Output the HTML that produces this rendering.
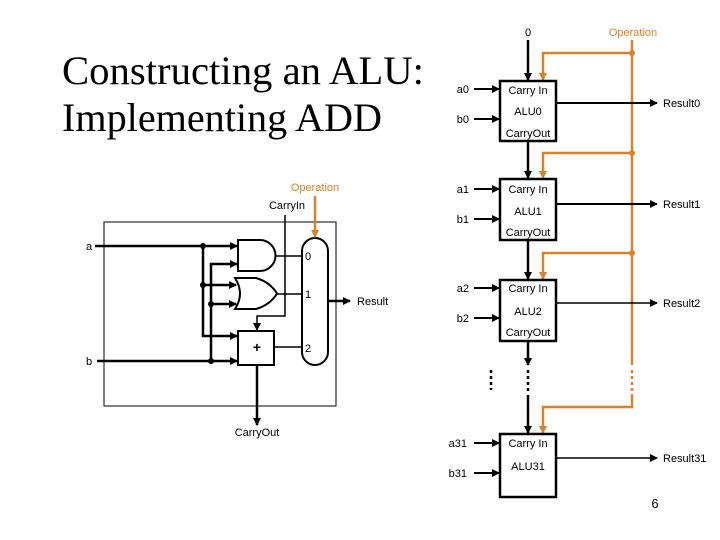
<!DOCTYPE html>
<html><head><meta charset="utf-8"><style>body{margin:0;background:#fff}svg{display:block}</style></head><body>
<svg width="720" height="540" viewBox="0 0 720 540" xmlns="http://www.w3.org/2000/svg" font-family="Liberation Sans, sans-serif" font-size="11">
<defs>
<marker id="ab" markerWidth="8" markerHeight="8" refX="7" refY="4" orient="auto" markerUnits="userSpaceOnUse"><path d="M0,0 L8,4 L0,8 z" fill="#000"/></marker>
<marker id="ao" markerWidth="8" markerHeight="8" refX="7" refY="4" orient="auto" markerUnits="userSpaceOnUse"><path d="M0,0 L8,4 L0,8 z" fill="#d9822b"/></marker>
</defs>
<text x="62" y="84" font-family="Liberation Serif, serif" font-size="40" textLength="362" lengthAdjust="spacingAndGlyphs">Constructing an ALU:</text>
<text x="62" y="131" font-family="Liberation Serif, serif" font-size="40" textLength="320" lengthAdjust="spacingAndGlyphs">Implementing ADD</text>

<g stroke="#000" fill="none">
<rect x="104" y="222" width="232" height="184" stroke-width="1"/>
<g stroke-width="2.5">
<line x1="95" y1="246" x2="237" y2="246" marker-end="url(#ab)"/>
<line x1="97" y1="361" x2="237" y2="361" marker-end="url(#ab)"/>
<polyline points="203,246 203,336 237,336" marker-end="url(#ab)"/>
<polyline points="211,361 211,264 237,264" marker-end="url(#ab)"/>
<line x1="203" y1="285" x2="236" y2="285" marker-end="url(#ab)"/>
<line x1="211" y1="304" x2="236" y2="304" marker-end="url(#ab)"/>
<path d="M238,240 L260,240 A15.5,15.5 0 0 1 260,271 L238,271 Z" stroke-width="2"/>
<path d="M235,278 L256,278 Q270,282 277,293.5 Q270,305 256,309 L235,309 Q245,293.5 235,278 Z" stroke-width="2"/>
<rect x="238" y="331" width="36" height="34" stroke-width="2"/>
<rect x="302" y="238" width="26" height="127" rx="13" stroke-width="2"/>
<line x1="275" y1="256" x2="302" y2="256" stroke-width="1.5"/>
<line x1="277" y1="294" x2="302" y2="294" stroke-width="1.5"/>
<line x1="274" y1="347" x2="302" y2="347" stroke-width="1.5"/>
<polyline points="285,215 285,316 257,316 257,330" stroke-width="1.5" marker-end="url(#ab)"/>
<line x1="328" y1="301" x2="350" y2="301" marker-end="url(#ab)"/>
<line x1="257" y1="365" x2="257" y2="425" marker-end="url(#ab)"/>
</g>
</g>
<g fill="#000"><circle cx="203" cy="246" r="3"/><circle cx="203" cy="285" r="3"/><circle cx="211" cy="304" r="3"/><circle cx="211" cy="361" r="3"/></g>
<line x1="315" y1="196" x2="315" y2="237" stroke="#d9822b" stroke-width="2.5" marker-end="url(#ao)"/>
<text x="315" y="191" fill="#d9822b" text-anchor="middle">Operation</text>
<text x="287" y="209" text-anchor="middle">CarryIn</text>
<text x="86" y="250">a</text><text x="86" y="365">b</text>
<text x="257" y="352" text-anchor="middle" font-size="14" font-weight="bold">+</text>
<text x="305" y="260">0</text><text x="305" y="298">1</text><text x="305" y="352">2</text>
<text x="357" y="305">Result</text>
<text x="257" y="436" text-anchor="middle">CarryOut</text>

<g stroke="#d9822b" stroke-width="2.5" fill="none">
<line x1="632" y1="40" x2="632" y2="365"/>
<line x1="632" y1="370" x2="632" y2="395" stroke-dasharray="3,3"/>
<polyline points="632,395 632,407 543,407 543,433" marker-end="url(#ao)"/>
<polyline points="632,53 543,53 543,80" marker-end="url(#ao)"/>
<polyline points="632,153 543,153 543,178" marker-end="url(#ao)"/>
<polyline points="632,253 543,253 543,279" marker-end="url(#ao)"/>
</g>
<g fill="#d9822b"><circle cx="632" cy="53" r="3"/><circle cx="632" cy="153" r="3"/><circle cx="632" cy="253" r="3"/></g>
<g stroke="#000" stroke-width="2.5" fill="none">
<line x1="528" y1="40" x2="528" y2="80" marker-end="url(#ab)"/>
<line x1="528" y1="141" x2="528" y2="178" marker-end="url(#ab)"/>
<line x1="528" y1="240" x2="528" y2="279" marker-end="url(#ab)"/>
<line x1="528" y1="341" x2="528" y2="365" marker-end="url(#ab)"/>
<line x1="528" y1="370" x2="528" y2="392" stroke-dasharray="3,3"/>
<line x1="528" y1="395" x2="528" y2="433" marker-end="url(#ab)"/>
<line x1="491" y1="370" x2="491" y2="390" stroke-dasharray="3,3"/>
<rect x="500" y="81" width="56" height="60"/>
<rect x="500" y="179" width="56" height="61"/>
<rect x="500" y="280" width="56" height="61"/>
<rect x="500" y="434" width="56" height="63"/>
</g>
<g stroke="#000" stroke-width="2" fill="none">
<line x1="474" y1="89" x2="499" y2="89" marker-end="url(#ab)"/><line x1="474" y1="119" x2="499" y2="119" marker-end="url(#ab)"/>
<line x1="474" y1="189" x2="499" y2="189" marker-end="url(#ab)"/><line x1="474" y1="219" x2="499" y2="219" marker-end="url(#ab)"/>
<line x1="474" y1="288" x2="499" y2="288" marker-end="url(#ab)"/><line x1="474" y1="318" x2="499" y2="318" marker-end="url(#ab)"/>
<line x1="474" y1="443" x2="499" y2="443" marker-end="url(#ab)"/><line x1="474" y1="473" x2="499" y2="473" marker-end="url(#ab)"/>
<line x1="556" y1="103" x2="657" y2="103" marker-end="url(#ab)"/>
<line x1="556" y1="204" x2="657" y2="204" marker-end="url(#ab)"/>
<line x1="556" y1="303" x2="657" y2="303" stroke-width="1.5" marker-end="url(#ab)"/>
<line x1="556" y1="458" x2="657" y2="458" stroke-width="1.5" marker-end="url(#ab)"/>
</g>
<text x="528" y="36" text-anchor="middle">0</text>
<text x="633" y="36" fill="#d9822b" text-anchor="middle">Operation</text>
<g text-anchor="middle">
<text x="528" y="94">Carry In</text><text x="528" y="115">ALU0</text><text x="528" y="137">CarryOut</text>
<text x="528" y="193">Carry In</text><text x="528" y="215">ALU1</text><text x="528" y="236">CarryOut</text>
<text x="528" y="292">Carry In</text><text x="528" y="315">ALU2</text><text x="528" y="336">CarryOut</text>
<text x="528" y="447">Carry In</text><text x="528" y="470">ALU31</text>
</g>
<g text-anchor="end">
<text x="469" y="93">a0</text><text x="469" y="123">b0</text>
<text x="469" y="193">a1</text><text x="469" y="223">b1</text>
<text x="469" y="292">a2</text><text x="469" y="322">b2</text>
<text x="467" y="447">a31</text><text x="467" y="477">b31</text>
</g>
<text x="663" y="107">Result0</text><text x="663" y="208">Result1</text><text x="663" y="307">Result2</text><text x="663" y="462">Result31</text>
<text x="655" y="508" font-size="13" text-anchor="middle">6</text>
</svg>
</body></html>
